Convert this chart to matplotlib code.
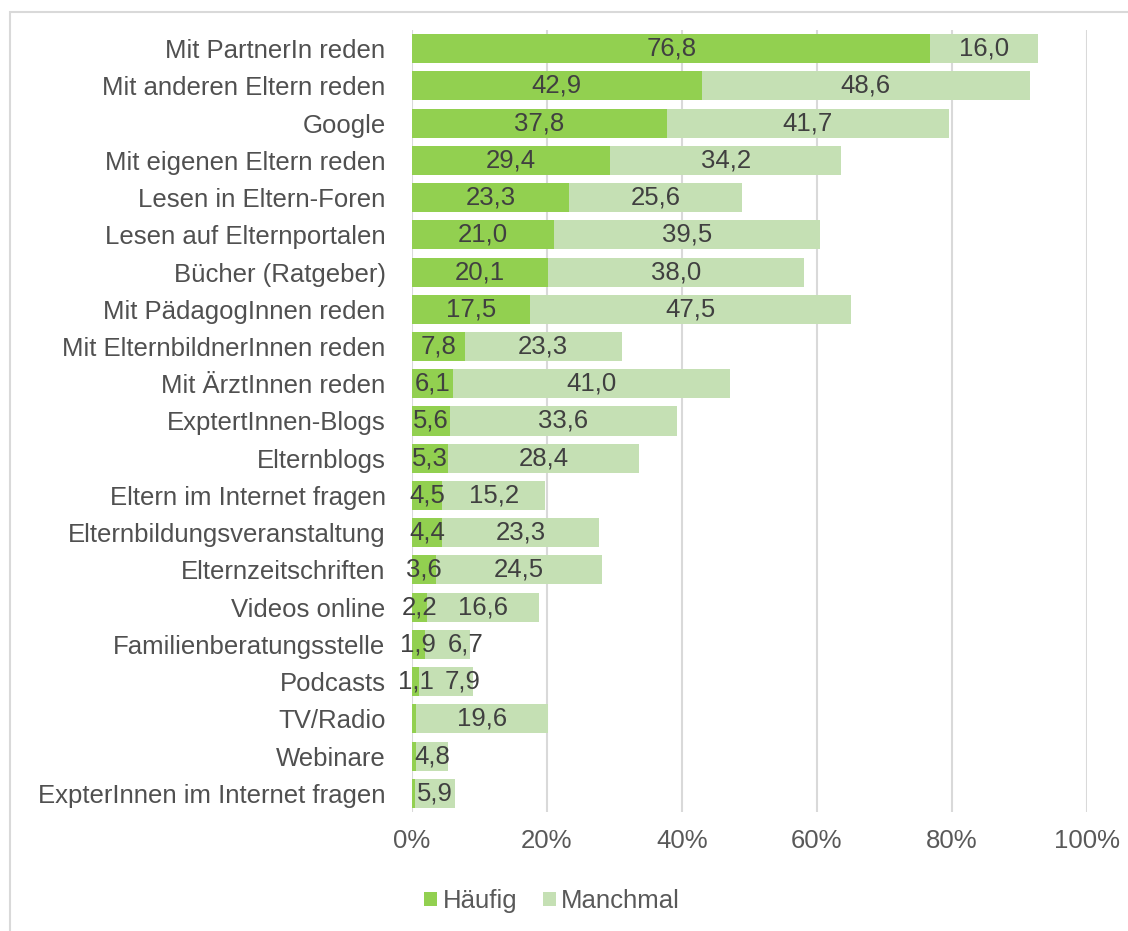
import matplotlib
matplotlib.use("Agg")
import matplotlib.pyplot as plt
from matplotlib.patches import Rectangle
from matplotlib.ticker import FuncFormatter

plt.rcParams['font.family'] = ['Liberation Sans', 'DejaVu Sans']

categories = [
    "Mit PartnerIn reden", "Mit anderen Eltern reden", "Google",
    "Mit eigenen Eltern reden", "Lesen in Eltern-Foren", "Lesen auf Elternportalen",
    "Bücher (Ratgeber)", "Mit PädagogInnen reden", "Mit ElternbildnerInnen reden",
    "Mit ÄrztInnen reden", "ExptertInnen-Blogs", "Elternblogs",
    "Eltern im Internet fragen", "Elternbildungsveranstaltung", "Elternzeitschriften",
    "Videos online", "Familienberatungsstelle", "Podcasts", "TV/Radio",
    "Webinare", "ExpterInnen im Internet fragen",
]
haeufig = [76.8, 42.9, 37.8, 29.4, 23.3, 21.0, 20.1, 17.5, 7.8, 6.1, 5.6, 5.3,
           4.5, 4.4, 3.6, 2.2, 1.9, 1.1, 0.6, 0.6, 0.5]
manchmal = [16.0, 48.6, 41.7, 34.2, 25.6, 39.5, 38.0, 47.5, 23.3, 41.0, 33.6, 28.4,
            15.2, 23.3, 24.5, 16.6, 6.7, 7.9, 19.6, 4.8, 5.9]
haeufig_label_shown = [True] * 18 + [False] * 3
series_names = ["Häufig", "Manchmal"]
xticks = [0, 20, 40, 60, 80, 100]

c_h = "#92D050"
c_m = "#C5E0B4"
txt = "#404040"
fs = 18.5

fig = plt.figure(figsize=(11.28, 9.31), dpi=100)
ax = fig.add_axes([412/1128, 1 - 812/931, (1087-412)/1128, (812-30)/931])

y = list(range(len(categories)))
bh = 0.78
b1 = ax.barh(y, haeufig, height=bh, color=c_h, label=series_names[0], zorder=3)
b2 = ax.barh(y, manchmal, left=haeufig, height=bh, color=c_m, label=series_names[1], zorder=3)

fmt = lambda v: f"{v:.1f}".replace(".", ",")
for i, (h, m) in enumerate(zip(haeufig, manchmal)):
    if haeufig_label_shown[i]:
        ax.text(h / 2, i, fmt(h), ha="center", va="center", fontsize=fs, color=txt, zorder=4)
    xm = h + m / 2
    # nudge small, crowded labels right (as in the reference) so they don't collide
    if m < 10 and haeufig_label_shown[i]:
        xm = max(xm, h / 2 + 7.0)
    ax.text(xm, i, fmt(m), ha="center", va="center", fontsize=fs, color=txt, zorder=4)

ax.set_ylim(len(categories) - 0.5, -0.5)
ax.set_xlim(0, 100)
ax.set_yticks(y)
ax.set_yticklabels(categories, fontsize=fs, color="#505050")
ax.set_xticks(xticks)
ax.xaxis.set_major_formatter(FuncFormatter(lambda v, p: f"{int(v)}%"))
ax.tick_params(axis="x", labelsize=fs, labelcolor="#595959", length=0, pad=12)
ax.tick_params(axis="y", length=0, pad=19)
for s in ax.spines.values():
    s.set_visible(False)
ax.grid(axis="x", color="#D9D9D9", linewidth=1.5, zorder=0)
ax.set_axisbelow(True)

fig.legend(handles=[b1, b2], labels=series_names, loc="center",
           bbox_to_anchor=(552/1128, 1 - 901/931), ncol=2, frameon=False,
           fontsize=fs, labelcolor="#595959", handlelength=0.5, handleheight=0.5,
           handletextpad=0.2, columnspacing=1.0)

fig.patches.append(Rectangle((10/1128, -0.05), 1.2, 1 - 12/931 + 0.05,
                             transform=fig.transFigure, fill=False,
                             edgecolor="#D9D9D9", linewidth=1.5))

fig.savefig("out.png", dpi=100)
